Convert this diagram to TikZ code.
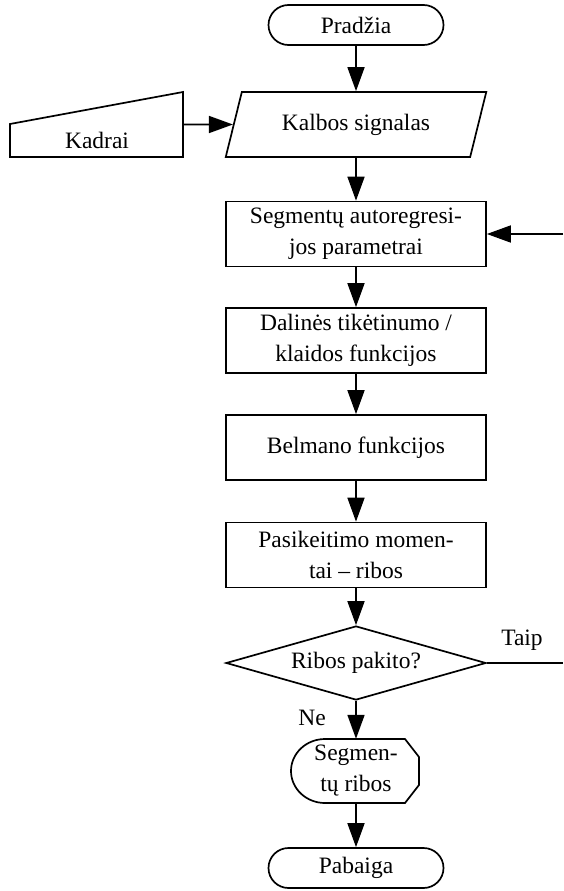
\documentclass[tikz,border=0pt]{standalone}
\usepackage{fontspec}
\setmainfont{Liberation Serif}
\usetikzlibrary{arrows.meta,positioning,shapes.geometric,shapes.misc}
\tikzset{
  lineln/.style={line width=1.7pt},
  flow/.style={-{Triangle[length=24pt,width=17pt]}, line width=1.7pt},
  txt/.style={font=\fontsize{23.5}{31}\selectfont, align=center, inner sep=0pt},
  procbox/.style={txt, draw, line width=1.7pt, rectangle, minimum width=260pt, minimum height=65pt},
  termbox/.style={txt, draw, line width=1.7pt, rounded rectangle, minimum width=175pt, minimum height=40pt},
  iobox/.style={txt, draw, line width=1.7pt, trapezium, trapezium left angle=64,
    trapezium right angle=116, trapezium stretches=true, minimum width=261pt, minimum height=65pt},
  decbox/.style={txt, draw, line width=1.7pt, diamond, aspect=3.5, minimum width=260pt, minimum height=74pt},
}

\begin{document}
\begin{tikzpicture}[x=1pt, y=-1pt]
  \useasboundingbox (0,0) rectangle (563,891);
  % main column
  \node[termbox] (start) at (356,25) {Pradžia};
  \node[iobox] (signal) at (356,124.5) {Kalbos signalas};
  \node[procbox] (segm) at (356,234) {Segmentų autoregresi-\\jos parametrai};
  \node[procbox] (dalines) at (356,340.5) {Dalinės tikėtinumo /\\klaidos funkcijos};
  \node[procbox] (belman) at (356,447.5) {Belmano funkcijos};
  \node[procbox] (momentai) at (356,555) {Pasikeitimo momen-\\tai -- ribos};
  \node[decbox] (decision) at (356,663) {Ribos pakito?};
  \node[termbox] (finish) at (356,868) {Pabaiga};

  % manual input
  \draw[lineln] (10,124) -- (183,92) -- (183,157) -- (10,157) -- cycle;
  \node[txt] (kadrai) at (97,140) {Kadrai};
  \coordinate (kadraiout) at (183,124.5);

  % display
  \draw[lineln] (325,739) -- (405,739) -- (419,757) -- (419,785) -- (405,803) -- (325,803)
    arc[start angle=90, end angle=270, x radius=34, y radius=32];
  \node[txt, minimum height=64pt] (ribos) at (356,771) {Segmen-\\tų ribos};

  % side connectors
  \coordinate (loopin) at (563,234);
  \coordinate (taipout) at (563,663);
  \node[txt] (taip) at (522,640) {Taip};
  \node[txt] (ne) at (312,718) {Ne};

  \draw[flow] (start) -- (signal);
  \draw[flow] (kadraiout) -- (signal.west);
  \draw[flow] (signal) -- (segm);
  \draw[flow] (loopin) -- (segm.east);
  \draw[flow] (segm) -- (dalines);
  \draw[flow] (dalines) -- (belman);
  \draw[flow] (belman) -- (momentai);
  \draw[flow] (momentai) -- (decision);
  \draw[lineln] (decision.east) -- (taipout);
  \draw[flow] (decision) -- (ribos);
  \draw[flow] (ribos) -- (finish);
\end{tikzpicture}
\end{document}
